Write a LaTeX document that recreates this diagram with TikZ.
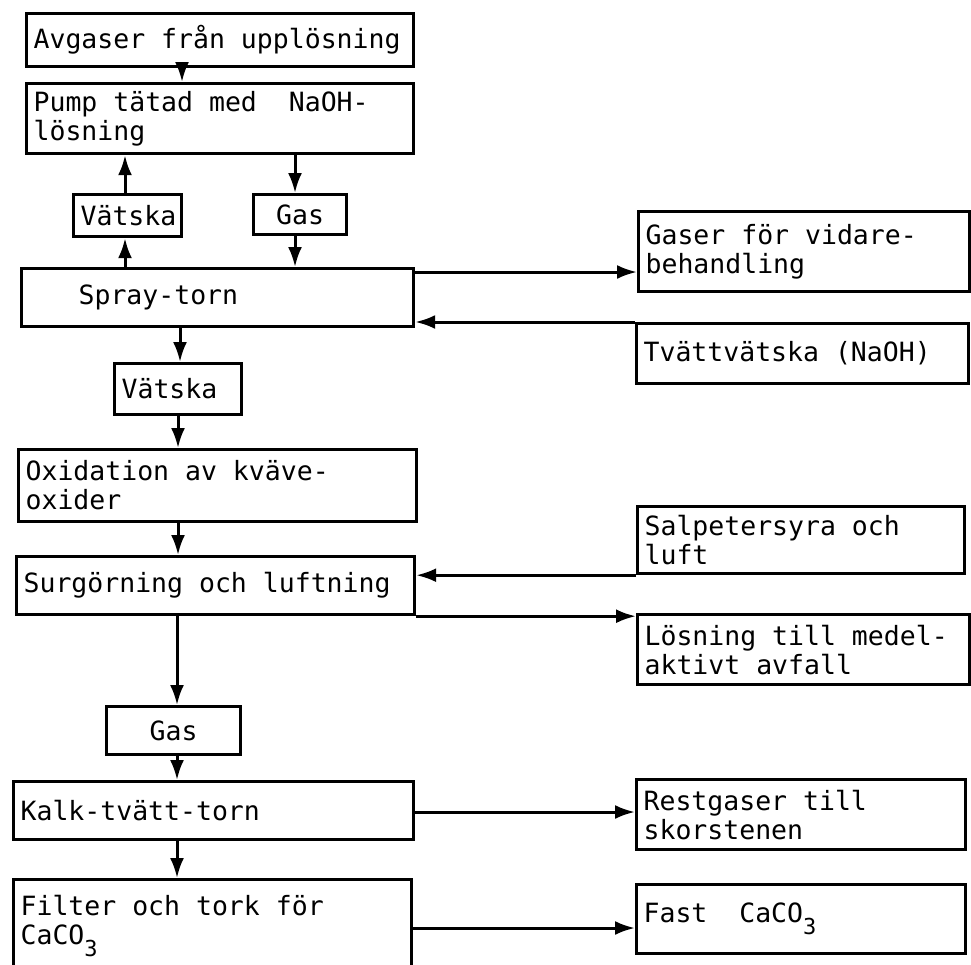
\documentclass[tikz,border=0pt]{standalone}
\usepackage{fontspec}
\newfontfamily\tw{DejaVu Sans Mono}
\usetikzlibrary{arrows.meta}
\newcommand{\subthree}{\raisebox{-12pt}{\fontsize{22pt}{22pt}\selectfont 3}}
\newcommand{\twfont}{\tw\fontsize{26.5pt}{29pt}\selectfont}
\begin{document}
\begin{tikzpicture}[x=1pt,y=-1pt,
  box/.style={draw, line width=3.2pt, anchor=north west, inner xsep=7pt, inner ysep=0pt,
    align=left, font=\twfont,
    execute at begin node={\spaceskip=0.602em\relax\xspaceskip=0.602em\relax}},
  arr/.style={line width=3pt, -{Latex[length=20pt,width=14pt]}}]
\useasboundingbox (0,0) rectangle (971,964);
% left column
\node[box, text width=373pt, minimum height=53pt] (avg) at (25,12) {Avgaser från upplösning};
\node[box, text width=373pt, minimum height=70pt] (pump) at (25,82) {Pump tätad med\ \ NaOH-\\lösning};
\node[box, text width=94pt, minimum height=42pt] (vat1) at (72,193) {Vätska};
\node[box, text width=79pt, minimum height=40pt, align=center] (gas1) at (252,193) {Gas};
\node[box, text width=378pt, minimum height=58pt] (spray) at (20,267) {\hspace*{50pt}Spray-torn};
\node[box, text width=113pt, minimum height=51pt] (vat2) at (113,362) {Vätska};
\node[box, text width=384pt, minimum height=72pt] (oxid) at (17,448) {Oxidation av kväve-\\oxider};
\node[box, text width=384pt, minimum height=58pt] (surg) at (15,555) {Surgörning och luftning};
\node[box, text width=120pt, minimum height=48pt, align=center] (gas2) at (105,705) {Gas};
\node[box, text width=386pt, minimum height=58pt] (kalk) at (12,780) {Kalk-tvätt-torn};
\node[box, text width=384pt, minimum height=92pt] (filter) at (12,878) {Filter och tork för\\CaCO\subthree};
% right column
\node[box, text width=317pt, minimum height=80pt] (gaser) at (637,210) {Gaser för vidare-\\behandling};
\node[box, text width=318pt, minimum height=60pt] (tvatt) at (635,322) {Tvättvätska (NaOH)};
\node[box, text width=313pt, minimum height=67pt] (salp) at (636,505) {Salpetersyra och\\luft};
\node[box, text width=318pt, minimum height=70pt] (losn) at (636,613) {Lösning till medel-\\aktivt avfall};
\node[box, text width=315pt, minimum height=70pt] (rest) at (635,778) {Restgaser till\\skorstenen};
\node[box, text width=315pt, minimum height=69pt] (fast) at (635,883) {Fast\ \ CaCO\subthree};
% vertical connectors
\draw[arr] (182,0 |- avg.south) -- (182,0 |- pump.north);
\draw[arr] (125,0 |- vat1.north) -- (125,0 |- pump.south);
\draw[arr] (295,0 |- pump.south) -- (295,0 |- gas1.north);
\draw[arr] (125,0 |- spray.north) -- (125,0 |- vat1.south);
\draw[arr] (295,0 |- gas1.south) -- (295,0 |- spray.north);
\draw[arr] (180,0 |- spray.south) -- (180,0 |- vat2.north);
\draw[arr] (178,0 |- vat2.south) -- (178,0 |- oxid.north);
\draw[arr] (178,0 |- oxid.south) -- (178,0 |- surg.north);
\draw[arr] (177,0 |- surg.south) -- (177,0 |- gas2.north);
\draw[arr] (177,0 |- gas2.south) -- (177,0 |- kalk.north);
\draw[arr] (177,0 |- kalk.south) -- (177,0 |- filter.north);
% horizontal connectors
\draw[arr] (spray.east |- 0,272) -- (gaser.west |- 0,272);
\draw[arr] (tvatt.north west) -- (spray.east |- tvatt.north west);
\draw[arr] (salp.south west) -- (surg.east |- salp.south west);
\draw[arr] (surg.south east) -- (losn.west |- surg.south east);
\draw[arr] (kalk.east |- 0,812) -- (rest.west |- 0,812);
\draw[arr] (filter.east |- 0,928) -- (fast.west |- 0,928);
\end{tikzpicture}
\end{document}
